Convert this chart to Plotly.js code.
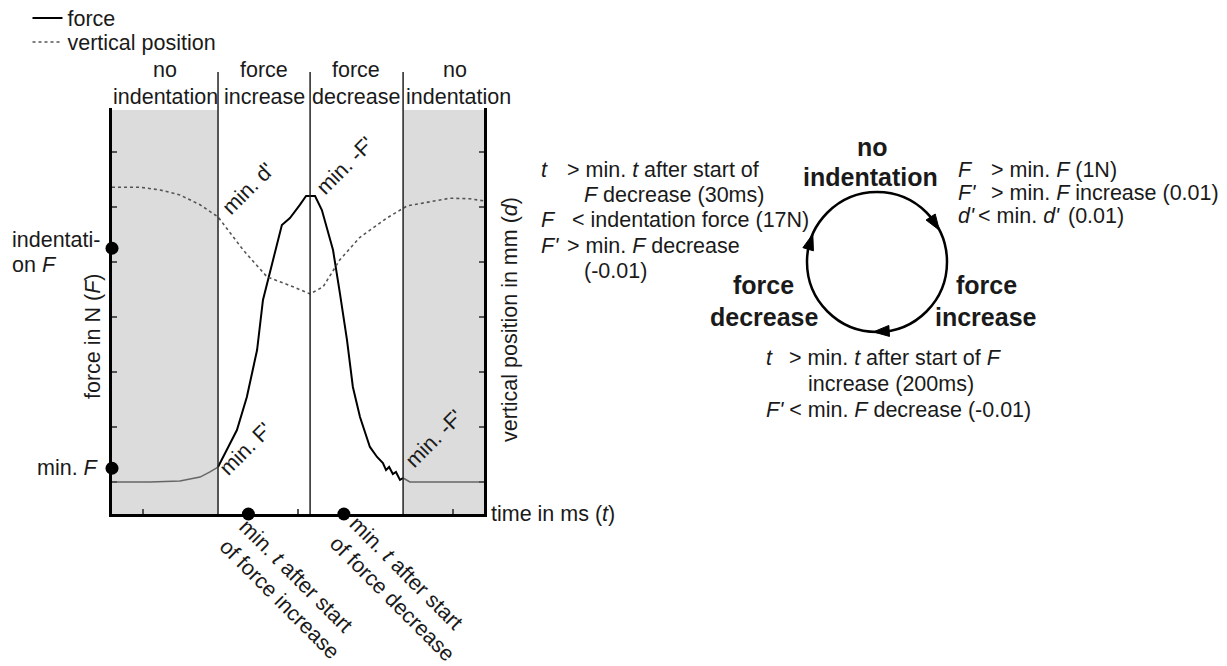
<!DOCTYPE html>
<html><head><meta charset="utf-8">
<script src="https://cdn.plot.ly/plotly-3.0.1.min.js"></script>
<style>html,body{margin:0;padding:0;background:#fff}#chart{width:1227px;height:666px}</style>
</head><body><div id="chart"></div>
<script>
// ---------------- data ----------------
const forceTimeMs = [0,123,219,284,316,342,371,403,435,468,487,516,548,574,590,606,626,655,677,713,735,758,777,800,832,855,874,884,894,906,916,929,939,961,1200];
const forceN      = [0,0,0.07,0.36,0.73,1.09,2.33,3.78,6.18,9.6,13.24,15.93,18.69,19.2,19.64,20.15,20.8,20.8,19.78,16.87,13.75,10.33,6.91,4.73,2.55,1.82,1.38,0.87,1.09,0.58,0.73,0.15,0.29,0,0];
const posTimeMs   = [0,90,155,219,284,342,423,500,584,639,681,735,800,887,952,1090,1155,1200];
const positionMm  = [5.36,5.36,5.31,5.22,5.04,4.82,4.22,3.73,3.55,3.42,3.55,4.04,4.45,4.80,5.02,5.16,5.15,5.11];
const phaseBoundsMs = [342, 639, 939];           // start force increase, start force decrease, back to no indentation
const forceThresholdsN = [1, 17];                // min. F, indentation F
const minTimeMarksMs = [440, 748];               // min. t after start of force increase / decrease
const forceTicksN = [0,4,8,12,16,20,24];
const posTicksMm = [0,1,2,3,4,5,6];
const timeTicksMs = [100,600,1100];

// ---------------- layout helpers ----------------
const W = 1227, H = 666, L = 112, R = 484, T = 108, B = 514;
const px = x => (x - L) / (R - L);
const py = y => (B - y) / (B - T);
const FONT = '"Liberation Sans", Arial, sans-serif';
const TXT = '#1a1a1a';
const FS = 21.5;

function ann(text, x, y, o) {
  o = o || {};
  return Object.assign({
    text: text, xref: 'paper', yref: 'paper', x: px(x), y: py(y), showarrow: false,
    xanchor: 'center', yanchor: 'middle', borderpad: 0,
    font: {family: FONT, size: o.size || FS, color: TXT, weight: o.bold ? 'bold' : 'normal'}
  }, o.extra || {});
}
const LEFT = {xanchor: 'left'}, RIGHT = {xanchor: 'right'};

// split force into grey (no indentation) and black (indentation) parts
const i1 = forceTimeMs.indexOf(phaseBoundsMs[0]);
const i2 = forceTimeMs.indexOf(phaseBoundsMs[2]);

const traces = [
  {x: forceTimeMs.slice(i1, i2 + 1), y: forceN.slice(i1, i2 + 1), name: 'force', mode: 'lines',
   line: {color: '#000', width: 2}, yaxis: 'y', legend: 'legend', hoverinfo: 'skip'},
  {x: posTimeMs, y: positionMm, name: 'vertical position', mode: 'lines',
   line: {color: '#555', width: 1.6, dash: 'dot'}, yaxis: 'y2', legend: 'legend2', hoverinfo: 'skip'},
  {x: forceTimeMs.slice(0, i1 + 1), y: forceN.slice(0, i1 + 1), mode: 'lines', showlegend: false,
   line: {color: '#666', width: 1.5}, yaxis: 'y'},
  {x: forceTimeMs.slice(i2), y: forceN.slice(i2), mode: 'lines', showlegend: false,
   line: {color: '#666', width: 1.5}, yaxis: 'y'},
  {x: [0, 0], y: forceThresholdsN, mode: 'markers', showlegend: false, cliponaxis: false,
   marker: {color: '#000', size: 13}, yaxis: 'y'},
  {x: minTimeMarksMs, y: [-2.327, -2.327], mode: 'markers', showlegend: false, cliponaxis: false,
   marker: {color: '#000', size: 13}, yaxis: 'y'}
];

// shapes
const shapes = [];
[[0, phaseBoundsMs[0]], [phaseBoundsMs[2], 1200]].forEach(r => shapes.push({
  type: 'rect', xref: 'x', yref: 'paper', x0: r[0], x1: r[1], y0: 0, y1: py(110),
  fillcolor: '#dcdcdc', line: {width: 0}, layer: 'below'}));
phaseBoundsMs.forEach(t => shapes.push({
  type: 'line', xref: 'x', yref: 'paper', x0: t, x1: t, y0: 0, y1: py(72),
  line: {color: '#222', width: 1.5}}));

// state circle
const C = [877, 262], Rc = 70;
shapes.push({type: 'circle', xref: 'paper', yref: 'paper', x0: px(C[0]-Rc), x1: px(C[0]+Rc), y0: py(C[1]+Rc), y1: py(C[1]-Rc),
  line: {color: '#000', width: 2.5}});
function arrowPath(tipDeg) {
  const tb = tipDeg * Math.PI / 180, bb = (tipDeg - 13) * Math.PI / 180;
  const Tp = [C[0] + Rc*Math.cos(tb), C[1] + Rc*Math.sin(tb)];
  const Bp = [C[0] + Rc*Math.cos(bb), C[1] + Rc*Math.sin(bb)];
  const dx = Tp[0]-Bp[0], dy = Tp[1]-Bp[1], len = Math.hypot(dx, dy);
  const nx = -dy/len*5.5, ny = dx/len*5.5;
  const pts = [Tp, [Bp[0]+nx, Bp[1]+ny], [Bp[0]-nx, Bp[1]-ny]];
  return 'M' + pts.map(p => px(p[0]) + ',' + py(p[1])).join(' L') + ' Z';
}
[-27, 93, 203.5].forEach(a => shapes.push({type: 'path', xref: 'paper', yref: 'paper', path: arrowPath(a),
  fillcolor: '#000', line: {color: '#000', width: 1}}));

// annotations
const A = [];
// phase headers
[['no', 165, 70], ['indentation', 165, 97], ['force', 264, 70], ['increase', 264, 97],
 ['force', 356, 70], ['decrease', 356, 97], ['no', 455, 70], ['indentation', 458, 97]]
  .forEach(a => A.push(ann(a[0], a[1], a[2])));
// axis titles
A.push(ann('force in N (<i>F</i>)', 93, 337, {extra: {textangle: -90}}));
A.push(ann('vertical position in mm (<i>d</i>)', 510, 320, {extra: {textangle: -90}}));
A.push(ann('time in ms (<i>t</i>)', 490, 514, {extra: LEFT}));
// threshold labels on force axis
A.push(ann('indentati-', 11, 240, {extra: LEFT}));
A.push(ann('on <i>F</i>', 11, 265, {extra: LEFT}));
A.push(ann('min. <i>F</i>', 100, 468, {extra: RIGHT}));
// rotated in-plot labels
A.push(ann("min. d'", 248, 189, {extra: {textangle: -45}}));
A.push(ann("min. -F'", 345, 166, {extra: {textangle: -45}}));
A.push(ann("min. F'", 246, 449, {extra: {textangle: -45}}));
A.push(ann("min. -F'", 434, 439, {extra: {textangle: -45}}));
// rotated time labels below axis
A.push(ann('min. <i>t</i> after start<br>of force increase', 289, 589, {extra: {textangle: 45, align: 'left'}}));
A.push(ann('min. <i>t</i> after start<br>of force decrease', 402, 589, {extra: {textangle: 45, align: 'left'}}));
// left condition block (force decrease -> no indentation)
A.push(ann('<i>t</i>', 540, 170, {extra: LEFT}));
A.push(ann('&gt; min. <i>t</i> after start of', 566, 170, {extra: LEFT}));
A.push(ann('<i>F</i> decrease (30ms)', 583, 195, {extra: LEFT}));
A.push(ann('<i>F</i>', 540, 220, {extra: LEFT}));
A.push(ann('&lt; indentation force (17N)', 571, 220, {extra: LEFT}));
A.push(ann("<i>F'</i>", 540, 246, {extra: LEFT}));
A.push(ann('&gt; min. <i>F</i> decrease', 566, 246, {extra: LEFT}));
A.push(ann('(-0.01)', 583, 271, {extra: LEFT}));
// right condition block
A.push(ann('<i>F</i>', 957, 170, {extra: LEFT}));
A.push(ann('&gt; min. <i>F</i> (1N)', 990, 170, {extra: LEFT}));
A.push(ann("<i>F'</i>", 957, 193, {extra: LEFT}));
A.push(ann('&gt; min. <i>F</i> increase (0.01)', 990, 193, {extra: LEFT}));
A.push(ann("<i>d'</i>", 957, 216, {extra: LEFT}));
A.push(ann("&lt; min. <i>d'</i>", 977, 216, {extra: LEFT}));
A.push(ann('(0.01)', 1067, 216, {extra: LEFT}));
// bottom condition block
A.push(ann('<i>t</i>', 765, 358, {extra: LEFT}));
A.push(ann('&gt; min. <i>t</i> after start of <i>F</i>', 788, 358, {extra: LEFT}));
A.push(ann('increase (200ms)', 807, 384, {extra: LEFT}));
A.push(ann("<i>F'</i> &lt; min. <i>F</i> decrease (-0.01)", 765, 410, {extra: LEFT}));
// state names
[['no', 872, 147], ['indentation', 870, 177], ['force', 986, 285], ['increase', 986, 317],
 ['force', 763, 285], ['decrease', 764, 317]]
  .forEach(a => A.push(ann(a[0], a[1], a[2], {bold: true, size: 25})));

const axisCommon = {showgrid: false, zeroline: false, showticklabels: false, ticks: 'inside',
  ticklen: 5, tickwidth: 2, tickcolor: '#555', showline: true, linewidth: 3, linecolor: '#000', fixedrange: true};

const legendCommon = {xref: 'container', yref: 'container', xanchor: 'left', yanchor: 'middle',
  bgcolor: 'rgba(0,0,0,0)', font: {size: FS, family: FONT, color: TXT}, itemwidth: 30};

const layout = {
  width: W, height: H, margin: {l: L, r: W - R, t: T, b: H - B, pad: 0, autoexpand: false},
  paper_bgcolor: '#fff', plot_bgcolor: 'rgba(0,0,0,0)',
  font: {family: FONT, size: FS, color: TXT},
  showlegend: true,
  legend: Object.assign({}, legendCommon, {x: 27.5 / W, y: 1 - 18 / H}),
  legend2: Object.assign({}, legendCommon, {x: 27.5 / W, y: 1 - 42 / H}),
  xaxis: Object.assign({}, axisCommon, {range: [0, 1200], tickvals: timeTicksMs}),
  yaxis: Object.assign({}, axisCommon, {range: [-2.327, 27.2], tickvals: forceTicksN}),
  yaxis2: Object.assign({}, axisCommon, {range: [-0.582, 6.8], tickvals: posTicksMm, overlaying: 'y', side: 'right'}),
  shapes: shapes, annotations: A
};
Plotly.newPlot('chart', traces, layout, {staticPlot: true, displayModeBar: false});
</script></body></html>
